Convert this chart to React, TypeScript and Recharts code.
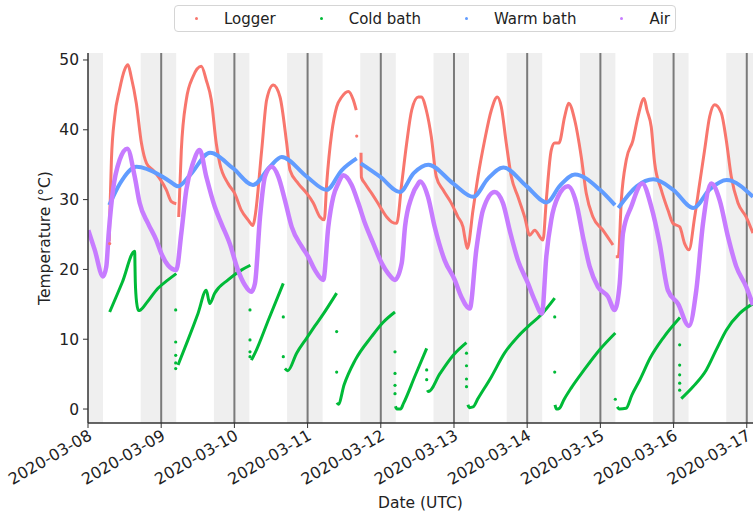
import React from "react";
import {
  ComposedChart,
  Line,
  Scatter,
  XAxis,
  YAxis,
  ReferenceArea,
  ReferenceLine,
} from "recharts";

// ---- categories / ticks ----
const dateLabels = [
  "2020-03-08", "2020-03-09", "2020-03-10", "2020-03-11", "2020-03-12",
  "2020-03-13", "2020-03-14", "2020-03-15", "2020-03-16", "2020-03-17",
];
const dayTicks = [0, 1, 2, 3, 4, 5, 6, 7, 8, 9];
const midnights = [1, 2, 3, 4, 5, 6, 7, 8, 9];
const yTicks = [0, 10, 20, 30, 40, 50];

// night shading (days since 2020-03-08 00:00 UTC)
const nightStart = [0, 0.72, 1.72, 2.72, 3.72, 4.72, 5.72, 6.72, 7.72, 8.72];
const nightEnd = [0.205, 1.205, 2.205, 3.205, 4.205, 5.205, 6.205, 7.205, 8.205, 9.085];

// ---- series: [days, °C] (null = gap) ----
const loggerValues: [number, number | null][] = [
  [0.29, 24.0], [0.3, 28.5], [0.32, 35.7], [0.365, 41.9], [0.43, 45.7], [0.5, 48.6], [0.546, 49.3],
  [0.59, 47.6], [0.66, 43.8], [0.73, 38.1], [0.8, 35.2], [0.89, 34.2], [0.98, 33.0], [1.07, 31.4],
  [1.14, 29.7], [1.206, 29.4], [1.22, null],
  [1.239, 27.5], [1.275, 37.1], [1.343, 44.3], [1.434, 47.6], [1.548, 49.1], [1.616, 47.1], [1.684, 44.3],
  [1.753, 38.0], [1.8, 35.2], [1.913, 32.3], [2.004, 30.9], [2.094, 28.5], [2.186, 27.1], [2.254, 26.3],
  [2.281, 27.5], [2.373, 37.1], [2.441, 44.3], [2.531, 46.4], [2.623, 44.7], [2.714, 38.1], [2.76, 34.2],
  [2.873, 32.3], [2.988, 30.9], [3.078, 29.5], [3.169, 27.5], [3.228, 27.1], [3.261, 32.3], [3.329, 39.5],
  [3.398, 43.3], [3.466, 44.7], [3.556, 45.5], [3.624, 44.3], [3.665, 42.8], [3.7, null],
  [3.73, 36.7], [3.735, 33.2], [3.784, 32.3], [3.876, 30.9], [3.989, 29.0], [4.081, 27.5], [4.149, 26.8],
  [4.217, 26.6], [4.286, 32.3], [4.354, 38.1], [4.422, 42.8], [4.512, 44.7], [4.553, 44.7], [4.622, 42.8],
  [4.69, 39.0], [4.758, 33.3], [4.85, 31.4], [4.963, 29.5], [5.055, 27.5], [5.123, 26.1], [5.146, 24.7],
  [5.182, 23.0], [5.26, 28.5], [5.328, 33.3], [5.419, 38.5], [5.51, 42.8], [5.592, 44.7], [5.646, 43.3],
  [5.714, 38.1], [5.783, 33.3], [5.874, 30.4], [5.966, 27.5], [6.034, 24.9], [6.102, 25.6], [6.216, 24.2],
  [6.261, 29.9], [6.329, 37.1], [6.376, 38.1], [6.434, 38.1], [6.512, 41.9], [6.567, 43.8], [6.649, 41.4],
  [6.739, 36.1], [6.807, 30.9], [6.899, 27.5], [7.036, 25.6], [7.172, 23.5], [7.19, null],
  [7.21, 21.8], [7.245, 21.8], [7.286, 29.9], [7.354, 35.7], [7.445, 38.5], [7.514, 41.9], [7.596, 44.5],
  [7.637, 42.8], [7.695, 40.4], [7.742, 35.2], [7.832, 31.4], [7.923, 28.5], [7.992, 26.6], [8.083, 26.1],
  [8.151, 23.7], [8.21, 22.8], [8.288, 27.5], [8.356, 32.3], [8.424, 37.1], [8.493, 41.9], [8.561, 43.6],
  [8.652, 42.4], [8.72, 38.5], [8.788, 33.3], [8.88, 29.5], [8.993, 27.5], [9.084, 25.2],
];
const loggerDots: [number, number][] = [[3.671, 39.1], [0.296, 23.7]];

const coldValues: [number, number | null][] = [
  [0.296, 13.9], [0.47, 18.2], [0.638, 22.6], [0.642, 20.5], [0.646, 18.3], [0.665, 15.2], [0.69, 14.1],
  [0.72, 14.2], [0.8, 15.2], [0.956, 17.3], [1.093, 18.5], [1.206, 19.4], [1.215, null],
  [1.23, 6.3], [1.366, 9.9], [1.503, 13.7], [1.616, 17.0], [1.663, 15.1], [1.731, 16.6], [1.913, 18.5],
  [2.094, 19.9], [2.218, 20.6], [2.225, null],
  [2.232, 7.0], [2.281, 8.0], [2.47, 12.9], [2.668, 18.0], [2.68, null],
  [2.69, 5.8], [2.73, 5.5], [2.85, 8.0], [2.99, 10.2], [3.1, 11.9], [3.22, 13.7], [3.397, 16.6], [3.3985, null],
  [3.4, 0.9], [3.42, 0.7], [3.5, 3.5], [3.65, 7.0], [3.876, 10.4], [4.03, 12.4], [4.194, 13.9], [4.197, null],
  [4.2, 0.4], [4.22, 0.0], [4.27, 0.0], [4.31, 0.8], [4.47, 4.8], [4.627, 8.7], [4.632, null],
  [4.637, 2.7], [4.65, 2.5], [4.81, 5.1], [4.99, 7.7], [5.17, 9.5], [5.18, null],
  [5.19, 0.6], [5.21, 0.2], [5.26, 0.3], [5.328, 1.5], [5.51, 4.6], [5.69, 8.0], [5.874, 10.4], [6.01, 11.8],
  [6.19, 13.5], [6.376, 15.9], [6.378, null],
  [6.38, 0.6], [6.4, 0.0], [6.44, 0.1], [6.5, 1.3], [6.6, 3.0], [6.77, 5.5], [6.99, 8.5], [7.204, 10.9], [7.215, null],
  [7.23, 0.3], [7.26, 0.0], [7.35, 0.1], [7.43, 2.0], [7.54, 4.2], [7.68, 7.3], [7.86, 10.2], [8.087, 13.1], [8.095, null],
  [8.105, 1.5], [8.265, 3.2], [8.447, 5.6], [8.584, 8.5], [8.72, 11.3], [8.903, 13.7], [9.085, 15.1],
];
const coldDots: [number, number][] = [
  [1.198, 14.2], [1.198, 9.6], [1.198, 7.7], [1.198, 6.6], [1.198, 5.8],
  [2.213, 14.2], [2.213, 9.9], [2.213, 8.2], [2.213, 7.5],
  [2.668, 13.2], [2.668, 7.5],
  [3.397, 11.1], [3.397, 5.3],
  [4.194, 8.2], [4.194, 5.1], [4.194, 3.4], [4.194, 2.2],
  [4.627, 5.6], [4.627, 4.2],
  [5.171, 8.0], [5.171, 6.2], [5.171, 4.3], [5.171, 3.2],
  [6.376, 13.2], [6.376, 5.3],
  [7.204, 1.4],
  [8.083, 9.2], [8.083, 6.3], [8.083, 4.9], [8.083, 3.7], [8.083, 2.7],
];

const warmValues: [number, number | null][] = [
  [0.291, 29.2], [0.437, 32.3], [0.663, 34.7], [0.984, 33.5], [1.12, 32.6], [1.23, 31.9], [1.393, 33.5],
  [1.667, 36.7], [1.98, 34.5], [2.254, 32.1], [2.486, 34.7], [2.646, 36.1], [2.988, 33.3], [3.261, 31.4],
  [3.466, 34.2], [3.671, 35.9], [3.7, null],
  [3.726, 35.2], [3.989, 33.3], [4.262, 31.1], [4.45, 33.8], [4.649, 35.0], [4.99, 32.3], [5.264, 30.4],
  [5.464, 33.0], [5.674, 34.6], [5.993, 31.9], [6.266, 29.6], [6.448, 32.0], [6.653, 33.6], [6.995, 31.4],
  [7.199, 29.2], [7.22, null],
  [7.245, 28.8], [7.496, 31.9], [7.723, 32.9], [7.996, 31.4], [8.269, 28.8], [8.497, 31.5], [8.725, 32.8],
  [9.085, 30.4],
];

const airValues: [number, number][] = [
  [0.004, 25.6], [0.092, 22.8], [0.205, 19.0], [0.25, 20.4], [0.283, 25.2], [0.342, 31.4], [0.433, 35.7],
  [0.537, 37.3], [0.638, 33.3], [0.706, 29.5], [0.82, 26.6], [0.933, 24.2], [1.001, 22.3], [1.093, 20.6],
  [1.206, 19.9], [1.275, 25.2], [1.343, 31.4], [1.434, 35.2], [1.526, 37.1], [1.616, 33.3], [1.731, 29.0],
  [1.821, 26.6], [1.936, 23.7], [2.049, 19.9], [2.141, 17.8], [2.231, 16.8], [2.281, 18.0], [2.35, 27.5],
  [2.418, 33.3], [2.51, 34.7], [2.6, 33.3], [2.691, 29.9], [2.783, 26.1], [2.919, 23.3], [3.01, 21.8],
  [3.101, 19.9], [3.214, 18.5], [3.283, 26.1], [3.351, 30.4], [3.419, 32.3], [3.488, 33.5], [3.602, 32.1],
  [3.693, 29.5], [3.784, 26.6], [3.898, 23.7], [4.012, 20.9], [4.102, 19.4], [4.194, 18.5], [4.286, 20.9],
  [4.331, 26.1], [4.422, 30.4], [4.512, 32.3], [4.536, 32.6], [4.645, 30.4], [4.736, 26.1], [4.873, 21.3],
  [5.01, 18.5], [5.1, 16.1], [5.215, 14.4], [5.305, 22.8], [5.396, 28.5], [5.556, 31.1], [5.669, 29.5],
  [5.761, 25.6], [5.874, 21.3], [6.011, 18.0], [6.102, 15.6], [6.202, 13.7], [6.261, 21.8], [6.329, 27.1],
  [6.421, 30.4], [6.557, 31.9], [6.671, 29.5], [6.762, 24.7], [6.854, 20.4], [6.967, 17.5], [7.104, 16.1],
  [7.195, 14.2], [7.264, 18.0], [7.309, 25.2], [7.422, 29.0], [7.572, 32.3], [7.695, 29.0], [7.81, 23.7],
  [7.923, 17.0], [8.06, 15.1], [8.21, 11.9], [8.31, 17.0], [8.402, 26.6], [8.515, 32.3], [8.63, 29.9],
  [8.743, 24.7], [8.857, 20.4], [8.993, 17.5], [9.085, 14.9],
];

const seriesNames = ["Logger", "Cold bath", "Warm bath", "Air"];
const seriesColors = ["#F8766D", "#00BA38", "#619CFF", "#C77CFF"];

const toRows = (arr: [number, number | null][]) => arr.map(([t, v]) => ({ t, v }));

const FONT = "'DejaVu Sans', sans-serif";
const X_MAX = 9.085;

const DateTick = (props: any) => {
  const { x, y, payload } = props;
  return (
    <g transform={`translate(${x},${y})`}>
      <text
        x={0}
        y={0}
        dy={10}
        textAnchor="end"
        transform="rotate(-30)"
        fontSize={16}
        fontFamily={FONT}
        fill="#222"
      >
        {dateLabels[payload.value]}
      </text>
    </g>
  );
};

const YTitle = (props: any) => {
  const vb = props.viewBox || { x: 0, y: 0, width: 0, height: 0 };
  const cx = vb.x + 17;
  const cy = vb.y + vb.height / 2;
  return (
    <text
      x={cx}
      y={cy}
      transform={`rotate(-90, ${cx}, ${cy})`}
      textAnchor="middle"
      dominantBaseline="central"
      fontSize={15.5}
      fontFamily={FONT}
      fill="#222"
    >
      Temperature (°C)
    </text>
  );
};

const dotShape = (color: string) => (p: any) =>
  <circle cx={p.cx} cy={p.cy} r={1.6} fill={color} />;

export default function App() {
  return (
    <div style={{ position: "absolute", left: 0, top: 0, width: 753, height: 512, background: "#fff" }}>
      <ComposedChart
        width={753}
        height={512}
        margin={{ top: 53, right: 0, bottom: 4, left: 28 }}
      >
        <XAxis
          xAxisId={0}
          type="number"
          dataKey="t"
          domain={[0, X_MAX]}
          allowDataOverflow
          ticks={dayTicks}
          tick={<DateTick />}
          tickSize={5}
          interval={0}
          height={85}
          axisLine={{ stroke: "#333", strokeWidth: 1.5 }}
          tickLine={{ stroke: "#333" }}
          label={{ value: "Date (UTC)", position: "insideBottom", offset: 0, fontSize: 15.5, fontFamily: FONT, fill: "#222" }}
        />
        <XAxis
          xAxisId="top"
          orientation="top"
          type="number"
          domain={[0, X_MAX]}
          height={0}
          tick={false}
          tickLine={false}
          axisLine={{ stroke: "#333", strokeWidth: 1.5 }}
        />
        <YAxis
          type="number"
          dataKey="v"
          domain={[-2, 51]}
          allowDataOverflow
          ticks={yTicks}
          width={60}
          tickSize={5}
          tickMargin={4}
          tick={{ fontSize: 15.5, fontFamily: FONT, fill: "#222" }}
          axisLine={{ stroke: "#333", strokeWidth: 1.5 }}
          tickLine={{ stroke: "#333" }}
          label={{ content: <YTitle /> }}
        />
        {nightStart.map((s, i) => (
          <ReferenceArea key={"n" + i} x1={s} x2={nightEnd[i]} fill="#efefef" fillOpacity={1} stroke="none" ifOverflow="hidden" />
        ))}
        {midnights.map((d) => (
          <ReferenceLine key={"m" + d} x={d} stroke="#7a7a7a" strokeWidth={2} ifOverflow="hidden" />
        ))}
        <Line data={toRows(loggerValues)} dataKey="v" name={seriesNames[0]} type="monotone" stroke={seriesColors[0]} strokeWidth={3} dot={false} activeDot={false} isAnimationActive={false} />
        <Scatter data={toRows(loggerDots)} name="logger dots" fill={seriesColors[0]} shape={dotShape(seriesColors[0])} isAnimationActive={false} />
        <Line data={toRows(coldValues)} dataKey="v" name={seriesNames[1]} type="monotone" stroke={seriesColors[1]} strokeWidth={3} dot={false} activeDot={false} isAnimationActive={false} />
        <Scatter data={toRows(coldDots)} name="cold dots" fill={seriesColors[1]} shape={dotShape(seriesColors[1])} isAnimationActive={false} />
        <Line data={toRows(warmValues)} dataKey="v" name={seriesNames[2]} type="monotone" stroke={seriesColors[2]} strokeWidth={4} dot={false} activeDot={false} isAnimationActive={false} />
        <Line data={toRows(airValues)} dataKey="v" name={seriesNames[3]} type="monotone" stroke={seriesColors[3]} strokeWidth={4.5} dot={false} activeDot={false} isAnimationActive={false} />
      </ComposedChart>
      <div
        style={{
          position: "absolute",
          left: 174,
          top: 5,
          width: 502,
          height: 27,
          boxSizing: "border-box",
          border: "1px solid #d5d5d5",
          borderRadius: 4,
          background: "#fff",
          display: "flex",
          alignItems: "center",
          paddingLeft: 20,
          fontFamily: FONT,
          fontSize: 15,
          color: "#222",
          whiteSpace: "nowrap",
        }}
      >
        {seriesNames.map((n, i) => (
          <div key={n} style={{ display: "flex", alignItems: "center", marginRight: 44, flexShrink: 0 }}>
            <span style={{ display: "inline-block", width: 3, height: 3, borderRadius: 2, background: seriesColors[i], marginRight: 26 }} />
            <span>{n}</span>
          </div>
        ))}
      </div>
    </div>
  );
}
